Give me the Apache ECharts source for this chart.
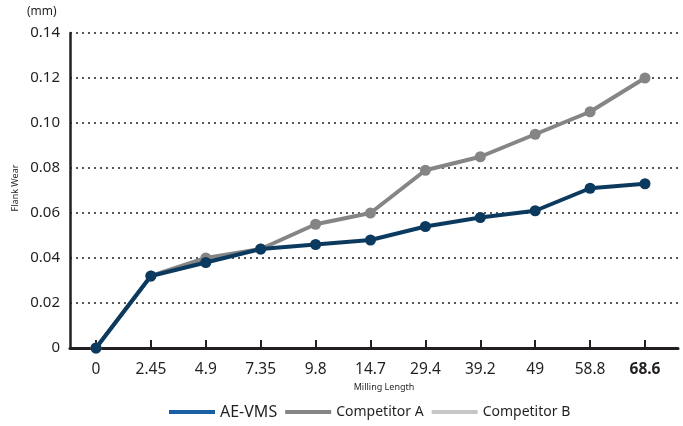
<!DOCTYPE html>
<html>
<head>
<meta charset="utf-8">
<script src="https://cdn.jsdelivr.net/npm/echarts@6/dist/echarts.min.js"></script>
<style>
html,body{margin:0;padding:0;background:#fff;}
#chart{width:683px;height:426px;}
</style>
</head>
<body>
<div id="chart"></div>
<script>
var categories = ['0', '2.45', '4.9', '7.35', '9.8', '14.7', '29.4', '39.2', '49', '58.8', '68.6'];
var aeVms = [0, 0.032, 0.038, 0.044, 0.046, 0.048, 0.054, 0.058, 0.061, 0.071, 0.073];
var competitorA = [0, 0.032, 0.040, 0.044, 0.055, 0.060, 0.079, 0.085, 0.095, 0.105, 0.120];
var competitorB = [];
var yTicks = ['0', '0.02', '0.04', '0.06', '0.08', '0.10', '0.12', '0.14'];

var FONT = '"Noto Sans", "Open Sans", sans-serif';
var INK = '#231f20';
var chart = echarts.init(document.getElementById('chart'), null, {renderer: 'canvas'});

chart.setOption({
  animation: false,
  textStyle: {fontFamily: FONT},
  grid: [
    {left: 70, right: 5, top: 33, bottom: 78},
    {left: 96, right: 38, top: 33, bottom: 78}
  ],
  xAxis: [
    {
      gridIndex: 0, type: 'value', min: 0, max: 1,
      axisLine: {show: true, lineStyle: {color: INK, width: 3}},
      axisTick: {show: false}, axisLabel: {show: false}, splitLine: {show: false}
    },
    {
      gridIndex: 1, type: 'category', data: categories, boundaryGap: false,
      axisLine: {show: false},
      axisTick: {show: true, inside: true, alignWithLabel: true, interval: 0, length: 8, lineStyle: {color: INK, width: 2}},
      axisLabel: {
        interval: 0, margin: 14, fontSize: 15.5, color: INK, fontFamily: FONT,
        formatter: function (v, i) { return i === categories.length - 1 ? '{b|' + v + '}' : v; },
        rich: {b: {fontWeight: 'bold', fontSize: 15.5, color: INK, fontFamily: FONT}}
      },
      splitLine: {show: false}
    }
  ],
  yAxis: [
    {
      gridIndex: 0, type: 'value', min: 0, max: 0.14, interval: 0.02,
      axisLine: {show: true, lineStyle: {color: INK, width: 2.5}},
      axisTick: {show: false},
      axisLabel: {
        margin: 10, fontSize: 15, color: INK, fontFamily: FONT,
        formatter: function (v) { return yTicks[Math.round(v / 0.02)]; }
      },
      splitLine: {show: true, lineStyle: {color: INK, width: 1.5, type: [2, 4]}}
    },
    {
      gridIndex: 1, type: 'value', min: 0, max: 0.14, interval: 0.02, show: false
    }
  ],
  legend: {
    bottom: 1, left: 164,
    icon: 'rect', itemWidth: 46, itemHeight: 4, itemGap: 8,
    textStyle: {color: INK, fontFamily: FONT, fontSize: 14},
    data: [
      {name: 'AE-VMS', itemStyle: {color: '#1b5fa5'}, textStyle: {fontSize: 16}},
      {name: 'Competitor A', itemStyle: {color: '#858585'}},
      {name: 'Competitor B', itemStyle: {color: '#c6c6c6'}}
    ]
  },
  graphic: [
    {type: 'text', left: 27, top: 6, style: {text: '(mm)', fontSize: 12, fill: INK, fontFamily: FONT}},
    {type: 'text', x: 15, y: 188, rotation: Math.PI / 2,
      style: {text: 'Flank Wear', fontSize: 9, fill: INK, fontFamily: FONT, align: 'center', verticalAlign: 'middle'}},
    {type: 'text', x: 384, y: 387,
      style: {text: 'Milling Length', fontSize: 9, fill: INK, fontFamily: FONT, align: 'center', verticalAlign: 'middle'}}
  ],
  series: [
    {
      name: 'Competitor B', type: 'line', xAxisIndex: 1, yAxisIndex: 1, data: competitorB,
      symbol: 'circle', symbolSize: 11, z: 2,
      lineStyle: {color: '#c6c6c6', width: 4}, itemStyle: {color: '#c6c6c6'}
    },
    {
      name: 'Competitor A', type: 'line', xAxisIndex: 1, yAxisIndex: 1, data: competitorA,
      symbol: 'circle', symbolSize: 11, z: 3,
      lineStyle: {color: '#858585', width: 4}, itemStyle: {color: '#858585'}
    },
    {
      name: 'AE-VMS', type: 'line', xAxisIndex: 1, yAxisIndex: 1, data: aeVms,
      symbol: 'circle', symbolSize: 11, z: 4,
      lineStyle: {color: '#0c3a5f', width: 4}, itemStyle: {color: '#0c3a5f'}
    }
  ]
});
</script>
</body>
</html>
